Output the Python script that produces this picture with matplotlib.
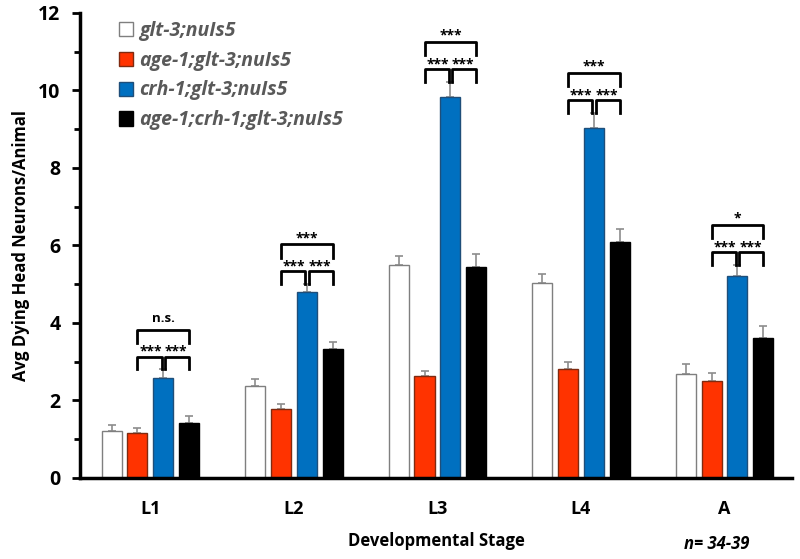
import matplotlib
matplotlib.use("Agg")
import matplotlib.pyplot as plt
import numpy as np

plt.rcParams['font.family'] = ['Open Sans', 'DejaVu Sans']

stages = ["L1", "L2", "L3", "L4", "A"]
strains = ["glt-3;nuIs5", "age-1;glt-3;nuIs5", "crh-1;glt-3;nuIs5", "age-1;crh-1;glt-3;nuIs5"]

glt3 = [1.21, 2.37, 5.50, 5.03, 2.67]
glt3_err = [0.15, 0.18, 0.22, 0.22, 0.26]
age1 = [1.15, 1.77, 2.63, 2.82, 2.50]
age1_err = [0.13, 0.15, 0.12, 0.18, 0.20]
crh1 = [2.58, 4.80, 9.82, 9.02, 5.22]
crh1_err = [0.22, 0.20, 0.40, 0.40, 0.28]
double = [1.43, 3.33, 5.45, 6.10, 3.60]
double_err = [0.18, 0.18, 0.32, 0.32, 0.32]

# significance: (red vs blue, blue vs black, red vs black)
sig_left = ["***", "***", "***", "***", "***"]
sig_right = ["***", "***", "***", "***", "***"]
sig_top = ["n.s.", "***", "***", "***", "*"]

fills = ["white", "#ff3300", "#0070c0", "black"]
edges = ["#7f7f7f", "#7f2a10", "#1f4e79", "black"]
series = [glt3, age1, crh1, double]
errs = [glt3_err, age1_err, crh1_err, double_err]

fig, ax = plt.subplots(figsize=(8, 5.59), dpi=100)
fig.subplots_adjust(left=0.1, right=0.99, bottom=0.145, top=0.977)

x = np.arange(len(stages))
step = 0.18
width = 0.14
offsets = [-1.5 * step, -0.5 * step, 0.5 * step, 1.5 * step]

for vals, err, fc, ec, off, lab in zip(series, errs, fills, edges, offsets, strains):
    ax.bar(x + off, vals, width, color=fc, edgecolor=ec, linewidth=1, label=lab, zorder=2)
    ax.errorbar(x + off, vals, yerr=[np.zeros(len(err)), err], fmt="none",
                ecolor="#8c8c8c", elinewidth=1.2, capsize=3, capthick=1.2, zorder=1)

# brackets
for i in range(len(stages)):
    top = crh1[i] + crh1_err[i]
    xr = x[i] + offsets[1]
    xb = x[i] + offsets[2]
    xk = x[i] + offsets[3]
    lo0, lo1 = top, top + 0.33
    up0, up1 = top + 0.68, top + 1.03
    g = 0.012
    ax.plot([xr, xr, xb - g, xb - g], [lo0, lo1, lo1, lo0], color="black", lw=2, zorder=3)
    ax.plot([xb + g, xb + g, xk, xk], [lo0, lo1, lo1, lo0], color="black", lw=2, zorder=3)
    ax.plot([xr, xr, xk, xk], [up0, up1, up1, up0], color="black", lw=2, zorder=3)
    ax.text((xr + xb) / 2, lo1 - 0.06, sig_left[i], ha="center", va="bottom",
            fontsize=10, fontweight="bold")
    ax.text((xb + xk) / 2, lo1 - 0.06, sig_right[i], ha="center", va="bottom",
            fontsize=10, fontweight="bold")
    ns = sig_top[i] == "n.s."
    ax.text((xr + xk) / 2, up1 + (0.12 if ns else -0.02), sig_top[i],
            ha="center", va="bottom", fontsize=9.5 if ns else 10,
            fontweight="bold")

ax.set_xlim(-0.49, 4.47)
ax.set_ylim(0, 12)
ax.set_xticks(x)
ax.set_xticklabels(stages, fontsize=13, fontweight="bold")
ax.tick_params(axis="x", length=0, pad=16)
ax.set_yticks(np.arange(0, 13, 2))
ax.set_yticks(np.arange(1, 12, 2), minor=True)
ax.tick_params(axis="y", which="major", labelsize=14, width=2, length=6, direction="out", pad=8)
ax.tick_params(axis="y", which="minor", width=2, length=4, direction="out")
for t in ax.get_yticklabels():
    t.set_fontweight("bold")

for s in ["top", "right"]:
    ax.spines[s].set_visible(False)
ax.spines["left"].set_linewidth(2.5)
ax.spines["bottom"].set_linewidth(2.5)

ax.set_ylabel("Avg Dying Head Neurons/Animal", fontsize=12, fontweight="bold", labelpad=6)
ax.set_xlabel("Developmental Stage", fontsize=12, fontweight="bold", labelpad=10)

leg = ax.legend(loc="upper left", bbox_to_anchor=(0.03, 1.02), frameon=False,
                handlelength=0.75, handleheight=0.75, handletextpad=0.3,
                labelspacing=0.5, prop={"size": 14, "weight": "bold", "style": "italic"})
for t in leg.get_texts():
    t.set_color("#595959")

fig.text(0.855, 0.018, "n= 34-39", fontsize=12, fontweight="bold", style="italic")

fig.savefig("out.png", dpi=100)
